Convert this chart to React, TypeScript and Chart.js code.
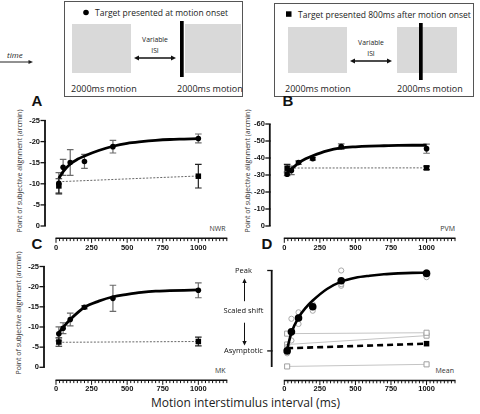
import React, { useEffect, useRef } from 'react';
import { Chart, registerables } from 'chart.js';

Chart.register(...registerables);

// ---------------- data ----------------
const isi = [20, 50, 100, 200, 400, 1000];
const endIsi = [20, 1000];
const fitIsi = [20, 50, 100, 150, 200, 300, 400, 500, 600, 700, 800, 900, 1000];
const xTickValues = [0, 250, 500, 750, 1000];
const xAxisMax = 1200;
const xMinorStep = 25;
const xMajorStep = 250;

// A: NWR
const nwrOnset = [-10.1, -13.9, -15.05, -15.3, -18.8, -20.75];
const nwrOnsetErr = [2.55, 1.9, 3.05, 1.65, 1.5, 1.05];
const nwrLate = [-9.5, -11.8];
const nwrLateErr = [1.7, 2.8];
const nwrLateLine = [-10.5, -11.85];
const nwrFit = [-11.3, -12.9, -14.7, -15.8, -16.6, -17.9, -18.9, -19.6, -20.0, -20.3, -20.5, -20.6, -20.7];

// B: PVM
const pvmOnset = [-30.4, -32.7, -37.3, -39.6, -46.7, -45.5];
const pvmOnsetErr = [0.8, 2.5, 1.0, 0.8, 1.6, 2.7];
const pvmLate = [-34.0, -34.2];
const pvmLateErr = [2.2, 1.0];
const pvmLateLine = [-34.1, -34.2];
const pvmFit = [-31.8, -33.6, -37.0, -39.5, -41.3, -44.2, -45.9, -46.6, -47.0, -47.2, -47.4, -47.5, -47.5];

// C: MK
const mkOnset = [-8.3, -9.7, -11.85, -14.9, -17.1, -19.1];
const mkOnsetErr = [1.75, 1.35, 1.6, 0.4, 3.25, 1.85];
const mkLate = [-6.27, -6.4];
const mkLateErr = [1.05, 1.1];
const mkLateLine = [-6.2, -6.4];
const mkFit = [-8.6, -9.9, -11.85, -13.5, -14.9, -16.4, -17.5, -18.1, -18.6, -18.9, -19.0, -19.1, -19.2];

// D: mean (scaled)
const meanOnset = [0.0, 0.237, 0.41, 0.55, 0.873, 0.964];
const meanFit = [0.025, 0.226, 0.415, 0.535, 0.626, 0.77, 0.862, 0.91, 0.935, 0.953, 0.964, 0.971, 0.973];
const meanLate = [0.033, 0.09];
const subjOnset1 = [0.05, 0.4, 0.48, 0.5, 0.81, 0.98];
const subjOnset2 = [0.0, 0.13, 0.335, 0.58, 1.0, 0.917];
const subjOnset3 = [-0.03, 0.22, 0.41, 0.56, 0.83, 0.96];
const subjLate1 = [0.215, 0.226];
const subjLate2 = [0.08, 0.19];
const subjLate3 = [-0.193, -0.167];

const ticks25 = [0, -5, -10, -15, -20, -25];
const ticks60 = [0, -10, -20, -30, -40, -50, -60];
const scaledLevels = [0, 0.5, 1];
const scaledLabels = ['Asymptotic', 'Scaled shift', 'Peak'];
const scaledMarks = [0, 1];

// ---------------- styling ----------------
const FONT_SANS = "'Open Sans', 'Noto Sans', sans-serif";
const FONT_TICK = "'Liberation Sans', Arial, sans-serif";
const X_H = 32;

function pts(xs: number[], ys: number[]) {
  return xs.map((x, i) => ({ x, y: ys[i] }));
}

function subjectDatasets(onset: number[], onsetErr: number[], late: number[], lateErr: number[], lateLine: number[], fit: number[]) {
  return [
    { label: 'onset', data: pts(isi, onset), showLine: false, pointStyle: 'circle', pointRadius: 2.8, pointBackgroundColor: '#000', pointBorderColor: '#000', pointBorderWidth: 0, errs: onsetErr, errColor: '#6b6b6b', order: 1 },
    { label: 'late', data: pts(endIsi, late), showLine: false, pointStyle: 'rect', pointRadius: 3.9, pointBackgroundColor: '#000', pointBorderColor: '#000', pointBorderWidth: 0, errs: lateErr, errColor: '#222', order: 1 },
    { label: 'fit', data: pts(fitIsi, fit), borderColor: '#000', borderWidth: 2.8, pointRadius: 0, cubicInterpolationMode: 'monotone', fill: false, order: 3 },
    { label: 'late fit', data: pts(endIsi, lateLine), borderColor: '#666', borderWidth: 1, borderDash: [2, 1.5], pointRadius: 0, fill: false, order: 4 },
  ];
}

function meanDatasets() {
  const grayCircle = (d: number[]) => ({ data: pts(isi, d), showLine: false, pointStyle: 'circle', pointRadius: 2.6, pointBackgroundColor: 'rgba(255,255,255,0)', pointBorderColor: '#a8a8a8', pointBorderWidth: 1, order: 9 });
  const grayLine = (d: number[]) => ({ data: pts(endIsi, d), borderColor: '#c4c4c4', borderWidth: 1, pointStyle: 'rect', pointRadius: 3.6, pointBackgroundColor: '#fff', pointBorderColor: '#a0a0a0', pointBorderWidth: 1, fill: false, order: 10 });
  return [
    { data: pts(isi, meanOnset), showLine: false, pointStyle: 'circle', pointRadius: 3.8, pointBackgroundColor: '#000', pointBorderColor: '#000', pointBorderWidth: 0, order: 1 },
    { data: pts(endIsi, meanLate), borderColor: '#000', borderWidth: 2.6, borderDash: [6, 4], pointStyle: 'rect', pointRadius: [0, 3.9], pointBackgroundColor: '#000', pointBorderWidth: 0, fill: false, order: 2 },
    { data: pts(fitIsi, meanFit), borderColor: '#000', borderWidth: 2.6, pointRadius: 0, cubicInterpolationMode: 'monotone', fill: false, order: 3 },
    grayCircle(subjOnset1),
    grayCircle(subjOnset2),
    grayCircle(subjOnset3),
    grayLine(subjLate1),
    grayLine(subjLate2),
    grayLine(subjLate3),
  ];
}

type Spec = {
  left: number; top: number; width: number; height: number;
  L: number; R: number; T: number; B: number;
  yMin: number; yMax: number; reverse: boolean;
  yTicks: number[]; yLabels?: string[]; yMarks: number[]; yFrom: number; yTo: number;
  yGap: number; yLabelPad: number; crossAlign?: string;
  xGap: number; xLabelPad: number;
  datasets: any[];
  arrows?: number;
};

const errorBarsPlugin = {
  id: 'errorBars',
  beforeDatasetsDraw(chart: any) {
    const { ctx } = chart;
    const ys = chart.scales.y;
    chart.data.datasets.forEach((ds: any, i: number) => {
      if (!ds.errs) return;
      const meta = chart.getDatasetMeta(i);
      ctx.save();
      ctx.strokeStyle = ds.errColor;
      ctx.lineWidth = 1.2;
      meta.data.forEach((el: any, j: number) => {
        const v = ds.data[j].y;
        const e = ds.errs[j];
        const x = el.x;
        const y1 = ys.getPixelForValue(v - e);
        const y2 = ys.getPixelForValue(v + e);
        ctx.beginPath();
        ctx.moveTo(x, y1); ctx.lineTo(x, y2);
        ctx.moveTo(x - 3.3, y1); ctx.lineTo(x + 3.3, y1);
        ctx.moveTo(x - 3.3, y2); ctx.lineTo(x + 3.3, y2);
        ctx.stroke();
      });
      ctx.restore();
    });
  },
};

function arrow(ctx: CanvasRenderingContext2D, x: number, y1: number, y2: number) {
  const dir = y2 > y1 ? 1 : -1;
  ctx.beginPath();
  ctx.moveTo(x, y1);
  ctx.lineTo(x, y2 - dir * 3.5);
  ctx.stroke();
  ctx.beginPath();
  ctx.moveTo(x, y2);
  ctx.lineTo(x - 2.2, y2 - dir * 4.5);
  ctx.lineTo(x + 2.2, y2 - dir * 4.5);
  ctx.closePath();
  ctx.fill();
}

function makeAxesPlugin(s: Spec) {
  return {
    id: 'prismAxes',
    afterDraw(chart: any) {
      const { ctx, chartArea: ca, scales } = chart;
      const xs = scales.x;
      const ys = scales.y;
      ctx.save();
      ctx.strokeStyle = '#111';
      ctx.fillStyle = '#111';
      const ax = ca.left - s.yGap;
      ctx.lineWidth = 1.8;
      ctx.beginPath();
      ctx.moveTo(ax, ys.getPixelForValue(s.yFrom));
      ctx.lineTo(ax, ys.getPixelForValue(s.yTo));
      ctx.stroke();
      ctx.lineWidth = 1.3;
      s.yMarks.forEach((v) => {
        const py = ys.getPixelForValue(v);
        ctx.beginPath();
        ctx.moveTo(ax + 0.9, py);
        ctx.lineTo(ax - 4.5, py);
        ctx.stroke();
      });
      const ay = ca.bottom + s.xGap;
      ctx.lineWidth = 1.5;
      ctx.beginPath();
      ctx.moveTo(xs.getPixelForValue(0) - 0.5, ay);
      ctx.lineTo(xs.getPixelForValue(xAxisMax) + 0.5, ay);
      ctx.stroke();
      ctx.lineWidth = 1;
      for (let v = 0; v <= xAxisMax; v += xMinorStep) {
        const px = xs.getPixelForValue(v);
        const len = v % xMajorStep === 0 ? 4.5 : 2.8;
        ctx.beginPath();
        ctx.moveTo(px, ay);
        ctx.lineTo(px, ay + len);
        ctx.stroke();
      }
      if (s.arrows !== undefined) {
        ctx.lineWidth = 1;
        const yPeak = ys.getPixelForValue(1);
        const yMid = ys.getPixelForValue(0.5);
        const yAsym = ys.getPixelForValue(0);
        arrow(ctx, s.arrows, yMid - 9.5, yPeak + 8);
        arrow(ctx, s.arrows, yMid + 12, yAsym - 5.5);
      }
      ctx.restore();
    },
  };
}

function buildConfig(s: Spec): any {
  const tickFont = { family: FONT_TICK, size: 7.5, weight: 'bold' };
  return {
    type: 'line',
    data: { datasets: s.datasets },
    options: {
      responsive: false,
      animation: false,
      events: [],
      layout: {
        padding: {
          left: 0,
          top: s.T - s.top,
          right: s.left + s.width - s.R,
          bottom: s.top + s.height - s.B - X_H,
        },
      },
      datasets: { line: { clip: false } },
      plugins: { legend: { display: false }, tooltip: { enabled: false } },
      scales: {
        x: {
          type: 'linear',
          min: 0,
          max: xAxisMax,
          grid: { display: false, drawTicks: false },
          border: { display: false },
          afterFit: (sc: any) => { sc.height = X_H; },
          afterBuildTicks: (sc: any) => { sc.ticks = xTickValues.map((v) => ({ value: v })); },
          ticks: { autoSkip: false, maxRotation: 0, minRotation: 0, padding: s.xLabelPad, font: tickFont, color: '#111', callback: (v: any) => String(v) },
        },
        y: {
          type: 'linear',
          min: s.yMin,
          max: s.yMax,
          reverse: s.reverse,
          grid: { display: false, drawTicks: false },
          border: { display: false },
          afterFit: (sc: any) => { sc.width = s.L - s.left; },
          afterBuildTicks: (sc: any) => { sc.ticks = s.yTicks.map((v) => ({ value: v })); },
          ticks: {
            autoSkip: false,
            padding: s.yLabelPad,
            crossAlign: s.crossAlign || 'near',
            font: s.yLabels ? { family: FONT_SANS, size: 7.5 } : tickFont,
            color: '#111',
            callback: (v: any) => {
              if (s.yLabels) {
                const idx = s.yTicks.indexOf(v);
                return idx >= 0 ? s.yLabels[idx] : '';
              }
              return String(v);
            },
          },
        },
      },
    },
    plugins: [errorBarsPlugin, makeAxesPlugin(s)],
  };
}

const specA: Spec = {
  left: 0, top: 100, width: 240, height: 160,
  L: 56, R: 226.8, T: 116.5, B: 226,
  yMin: -25, yMax: 0, reverse: true,
  yTicks: ticks25, yMarks: ticks25, yFrom: -25, yTo: 0,
  yGap: 11, yLabelPad: 16,
  xGap: 12.3, xLabelPad: 17.5,
  datasets: subjectDatasets(nwrOnset, nwrOnsetErr, nwrLate, nwrLateErr, nwrLateLine, nwrFit),
};

const specB: Spec = {
  left: 240, top: 100, width: 240, height: 160,
  L: 284.3, R: 455, T: 116.5, B: 226,
  yMin: -60, yMax: 0, reverse: true,
  yTicks: ticks60, yMarks: ticks60, yFrom: -60, yTo: 0,
  yGap: 14.5, yLabelPad: 19.5,
  xGap: 12.3, xLabelPad: 17.5,
  datasets: subjectDatasets(pvmOnset, pvmOnsetErr, pvmLate, pvmLateErr, pvmLateLine, pvmFit),
};

const specC: Spec = {
  left: 0, top: 245, width: 240, height: 169,
  L: 56, R: 226.8, T: 258.3, B: 367.3,
  yMin: -25, yMax: 0, reverse: true,
  yTicks: ticks25, yMarks: ticks25, yFrom: -25, yTo: 0,
  yGap: 12, yLabelPad: 17,
  xGap: 13, xLabelPad: 17.5,
  datasets: subjectDatasets(mkOnset, mkOnsetErr, mkLate, mkLateErr, mkLateLine, mkFit),
};

const specD: Spec = {
  left: 215, top: 245, width: 265, height: 169,
  L: 284.3, R: 455, T: 256.7, B: 367,
  yMin: -0.2, yMax: 1, reverse: false,
  yTicks: scaledLevels, yLabels: scaledLabels, yMarks: scaledMarks, yFrom: 1, yTo: -0.2,
  yGap: 12.6, yLabelPad: 21, crossAlign: 'center',
  xGap: 13.5, xLabelPad: 17.5,
  datasets: meanDatasets(),
  arrows: 29.5,
};

function Panel({ spec }: { spec: Spec }) {
  const ref = useRef<HTMLCanvasElement>(null);
  useEffect(() => {
    const chart = new Chart(ref.current as HTMLCanvasElement, buildConfig(spec));
    return () => chart.destroy();
  }, [spec]);
  return (
    <canvas
      ref={ref}
      width={spec.width}
      height={spec.height}
      style={{ position: 'absolute', left: spec.left, top: spec.top, width: spec.width, height: spec.height }}
    />
  );
}

function DoubleArrow({ x1, x2, y }: { x1: number; x2: number; y: number }) {
  return (
    <g>
      <line x1={x1 + 3} y1={y} x2={x2 - 3} y2={y} stroke="#111" strokeWidth={1.3} />
      <polygon points={`${x1},${y} ${x1 + 5},${y - 2.4} ${x1 + 5},${y + 2.4}`} fill="#111" />
      <polygon points={`${x2},${y} ${x2 - 5},${y - 2.4} ${x2 - 5},${y + 2.4}`} fill="#111" />
    </g>
  );
}

const yTitle = 'Point of subjective alignment (arcmin)';

export default function App() {
  return (
    <div style={{ position: 'fixed', left: 0, top: 0, width: 480, height: 414, background: '#fff', overflow: 'hidden' }}>
      <svg width={480} height={414} style={{ position: 'absolute', left: 0, top: 0 }} fontFamily={FONT_SANS}>
        {/* time arrow */}
        <text x={7} y={58} fontSize={8} fontStyle="italic" fill="#222">time</text>
        <line x1={0} y1={62} x2={30} y2={62} stroke="#222" strokeWidth={1} />
        <polygon points="33,62 28.5,60 28.5,64" fill="#222" />

        {/* box 1 */}
        <rect x={64.5} y={1.5} width={178} height={95} fill="none" stroke="#555" strokeWidth={1} />
        <circle cx={86} cy={12.5} r={2.8} fill="#000" />
        <text x={95} y={15.5} fontSize={8.5} fill="#222">Target presented at motion onset</text>
        <rect x={72} y={24} width={59} height={49} fill="#d9d9d9" />
        <rect x={185} y={24} width={56} height={49} fill="#d9d9d9" />
        <rect x={180} y={21} width={3.7} height={56} fill="#000" />
        <text x={155} y={41.5} fontSize={6.8} textAnchor="middle" fill="#222">Variable</text>
        <text x={155} y={52.5} fontSize={6.8} textAnchor="middle" fill="#222">ISI</text>
        <DoubleArrow x1={134} x2={176} y={58} />
        <text x={71} y={92} fontSize={9} fill="#222">2000ms motion</text>
        <text x={177} y={92} fontSize={9} fill="#222">2000ms motion</text>

        {/* box 2 */}
        <rect x={274.5} y={3.5} width={199} height={93} fill="none" stroke="#555" strokeWidth={1} />
        <rect x={286} y={11.3} width={5.5} height={5.5} fill="#000" />
        <text x={298} y={17.5} fontSize={8.5} fill="#222">Target presented 800ms after motion onset</text>
        <rect x={288} y={27} width={59} height={46} fill="#d9d9d9" />
        <rect x={397} y={27} width={60} height={46} fill="#d9d9d9" />
        <rect x={419} y={23} width={3.7} height={57} fill="#000" />
        <text x={371} y={45} fontSize={6.8} textAnchor="middle" fill="#222">Variable</text>
        <text x={371} y={55.5} fontSize={6.8} textAnchor="middle" fill="#222">ISI</text>
        <DoubleArrow x1={350} x2={392} y={61} />
        <text x={285} y={92} fontSize={9} fill="#222">2000ms motion</text>
        <text x={397} y={92} fontSize={9} fill="#222">2000ms motion</text>

        {/* panel letters */}
        <g fontFamily={FONT_TICK} fontWeight="bold" fontSize={15} fill="#111">
          <text x={31.5} y={106}>A</text>
          <text x={282.5} y={106}>B</text>
          <text x={31.5} y={248.5}>C</text>
          <text x={261.5} y={249}>D</text>
        </g>

        {/* y titles */}
        <g fontSize={7} fill="#333" textAnchor="middle">
          <text transform="translate(21.5,171) rotate(-90)">{yTitle}</text>
          <text transform="translate(249.5,171) rotate(-90)">{yTitle}</text>
          <text transform="translate(20.5,313) rotate(-90)">{yTitle}</text>
        </g>

        {/* subject labels */}
        <g fontSize={7} fill="#333" textAnchor="end">
          <text x={225.5} y={231}>NWR</text>
          <text x={455} y={231}>PVM</text>
          <text x={225.5} y={372.5}>MK</text>
          <text x={454} y={372.5}>Mean</text>
        </g>

        <text x={245.5} y={407} fontSize={12} textAnchor="middle" fill="#222">Motion interstimulus interval (ms)</text>
      </svg>
      <Panel spec={specA} />
      <Panel spec={specB} />
      <Panel spec={specC} />
      <Panel spec={specD} />
    </div>
  );
}
